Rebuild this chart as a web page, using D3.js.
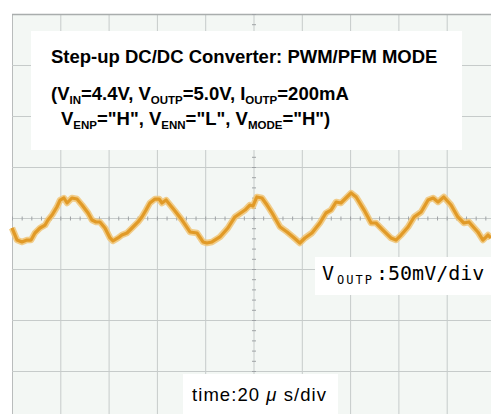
<!DOCTYPE html>
<html>
<head>
<meta charset="utf-8">
<script src="https://cdn.jsdelivr.net/npm/d3@7"></script>
<style>
    html, body { margin: 0; padding: 0; background: #ffffff; }
    svg { display: block; }
</style>
</head>
<body>
<div id="scope"></div>
<script>
    'use strict';

    // time axis (us) and grid divisions
    var timeDivs = [0, 20, 40, 60, 80, 100, 120, 140, 160, 180, 200];
    var voltDivs = [-200, -150, -100, -50, 0, 50, 100, 150, 200];

    // V_OUTP ripple trace (us, mV around the centre line)
    var timeUs = [0, 2.1, 4.1, 6.2, 7.9, 9.5, 11.6, 13.7, 14.9, 16.6, 18.6, 19.9, 21.5, 22.8, 24.8, 26.9,
        29.0, 31.5, 33.1, 34.8, 36.4, 38.5, 40.6, 41.8, 43.9, 45.5, 47.6, 49.7, 52.2, 53.8, 55.5, 57.1,
        59.2, 60.9, 62.1, 63.8, 67.5, 70.4, 73.7, 76.6, 79.1, 80.7, 82.8, 86.1, 89.4, 92.3, 96.5, 98.5,
        99.8, 101.4, 103.5, 105.6, 107.7, 111.0, 113.9, 116.4, 119.2, 121.3, 124.2, 127.5, 130.0, 132.1,
        134.2, 136.2, 140.4, 142.5, 145.8, 148.7, 150.7, 153.6, 156.9, 159.0, 161.1, 164.0, 166.5, 169.4,
        172.3, 174.4, 176.4, 178.8, 181.8, 184.6, 187.1, 189.2, 192.9, 195.0, 197.1, 198.3];
    var voutMv = [-9.8, -21.6, -23.5, -21.6, -21.6, -14.7, -9.8, -6.9, -2.0, 2.9, 10.8, 17.6, 19.6, 14.7, 19.6, 18.6,
        12.7, 4.9, -2.0, -3.9, -3.9, -9.8, -19.6, -22.5, -19.6, -16.7, -14.7, -9.8, -3.9, 1.0, 7.8, 14.7,
        18.6, 18.6, 14.7, 17.6, 6.9, -2.0, -13.7, -14.7, -23.5, -24.5, -23.5, -18.6, -9.8, 1.0, 7.8, 12.7,
        11.8, 20.6, 19.6, 12.7, 4.9, -8.8, -13.7, -18.6, -24.5, -19.6, -14.7, -4.9, 4.9, 7.8,
        15.7, 14.7, 24.5, 20.6, 7.8, -4.9, -4.9, -11.8, -19.6, -21.6, -16.7, -8.8, 1.0, 5.9,
        17.6, 19.6, 15.7, 20.6, 12.7, 1.0, -4.9, -3.9, -13.7, -21.6, -16.7, -19.6];

    var width = 491,
        height = 414,
        plot = { left: 12, top: 14, right: 495, bottom: 422 },
        gridColor = "#c6cbca",
        traceColor = "#e19a27",
        fontBold = "'Liberation Sans', Arial, sans-serif";

    var svg = d3.select("#scope").append("svg")
        .attr("width", width)
        .attr("height", height);

    var x = d3.scaleLinear().domain([0, 200]).range([plot.left, plot.right]);
    var y = d3.scaleLinear().domain([-200, 200]).range([plot.bottom, plot.top]);

    // screen background
    svg.append("rect")
        .attr("x", plot.left).attr("y", plot.top)
        .attr("width", plot.right - plot.left).attr("height", plot.bottom - plot.top)
        .attr("fill", "#f3f7f4");

    // graticule
    svg.append("g").selectAll("line")
        .data(timeDivs)
        .enter().append("line")
        .attr("x1", function (d) { return x(d) + 0.5; })
        .attr("x2", function (d) { return x(d) + 0.5; })
        .attr("y1", plot.top).attr("y2", plot.bottom)
        .attr("stroke", function (d) { return d === 0 ? "#b9bcbc" : gridColor; })
        .attr("stroke-width", 1);

    svg.append("g").selectAll("line")
        .data(voltDivs)
        .enter().append("line")
        .attr("y1", function (d) { return y(d) + 0.5; })
        .attr("y2", function (d) { return y(d) + 0.5; })
        .attr("x1", plot.left).attr("x2", plot.right)
        .attr("stroke", function (d) { return d === 200 ? "#a9adad" : gridColor; })
        .attr("stroke-width", function (d) { return d === 200 ? 1.5 : 1; });

    // minor ticks on the centre cross
    var minorT = d3.range(0, 201, 4),
        minorV = d3.range(-200, 201, 10);

    svg.append("g").selectAll("line")
        .data(minorT)
        .enter().append("line")
        .attr("x1", function (d) { return x(d) + 0.5; })
        .attr("x2", function (d) { return x(d) + 0.5; })
        .attr("y1", y(0) - 1.5).attr("y2", y(0) + 2.5)
        .attr("stroke", "#9fa3a6").attr("stroke-width", 1);

    svg.append("g").selectAll("line")
        .data(minorV)
        .enter().append("line")
        .attr("y1", function (d) { return y(d) + 0.5; })
        .attr("y2", function (d) { return y(d) + 0.5; })
        .attr("x1", x(100) - 1.5).attr("x2", x(100) + 2.5)
        .attr("stroke", "#9fa3a6").attr("stroke-width", 1);

    // trace
    var points = timeUs.map(function (t, i) { return [t, voutMv[i]]; });
    var line = d3.line()
        .x(function (d) { return x(d[0]); })
        .y(function (d) { return y(d[1]); });

    svg.append("path")
        .datum(points)
        .attr("d", line)
        .attr("fill", "none")
        .attr("stroke", "#f0c474")
        .attr("stroke-width", 6.5)
        .attr("stroke-linejoin", "round")
        .attr("opacity", 0.85);

    svg.append("path")
        .datum(points)
        .attr("d", line)
        .attr("fill", "none")
        .attr("stroke", traceColor)
        .attr("stroke-width", 3.2)
        .attr("stroke-linejoin", "round");

    // condition box
    svg.append("rect")
        .attr("x", 31).attr("y", 31)
        .attr("width", 431).attr("height", 119)
        .attr("fill", "#ffffff");

    var lines = [
        { x: 51, y: 63, parts: [["Step-up DC/DC Converter: PWM/PFM MODE", 0]] },
        { x: 51, y: 100, parts: [["(V", 0], ["IN", 1], ["=4.4V, V", 0], ["OUTP", 1], ["=5.0V, I", 0], ["OUTP", 1], ["=200mA", 0]] },
        { x: 61, y: 125, parts: [["V", 0], ["ENP", 1], ["=\"H\", V", 0], ["ENN", 1], ["=\"L\", V", 0], ["MODE", 1], ["=\"H\")", 0]] }
    ];

    lines.forEach(function (l) {
        var txt = svg.append("text")
            .attr("x", l.x).attr("y", l.y)
            .attr("font-family", fontBold)
            .attr("font-weight", "bold")
            .attr("fill", "#000000");
        var shifted = 0;
        l.parts.forEach(function (p) {
            var dy = p[1] ? 4 : 0;
            txt.append("tspan")
                .attr("dy", dy - shifted)
                .attr("font-size", p[1] ? 11.5 : 18.5)
                .text(p[0]);
            shifted = dy;
        });
    });

    // vertical scale label
    svg.append("rect")
        .attr("x", 315).attr("y", 257)
        .attr("width", 176).attr("height", 38)
        .attr("fill", "#ffffff");

    var vlab = svg.append("text")
        .attr("x", 322).attr("y", 280)
        .attr("font-family", "'DejaVu Sans Mono', monospace")
        .attr("fill", "#000000");
    vlab.append("tspan").attr("font-size", 20).text("V");
    vlab.append("tspan").attr("x", 337).attr("dy", 4).attr("font-size", 12)
        .attr("letter-spacing", 2).text("OUTP");
    vlab.append("tspan").attr("x", 376).attr("dy", -4).attr("font-size", 20)
        .text(":50mV/div");

    // time scale label
    svg.append("rect")
        .attr("x", 183).attr("y", 374)
        .attr("width", 155).attr("height", 40)
        .attr("fill", "#ffffff");

    var tlab = svg.append("text")
        .attr("x", 192).attr("y", 401)
        .attr("font-family", "'Liberation Sans', Arial, sans-serif")
        .attr("font-size", 18.5)
        .attr("textLength", 134)
        .attr("lengthAdjust", "spacing")
        .attr("fill", "#000000");
    tlab.append("tspan").text("time:20 ");
    tlab.append("tspan").attr("font-style", "italic").text("\u03bc");
    tlab.append("tspan").text(" s/div");
</script>
</body>
</html>
